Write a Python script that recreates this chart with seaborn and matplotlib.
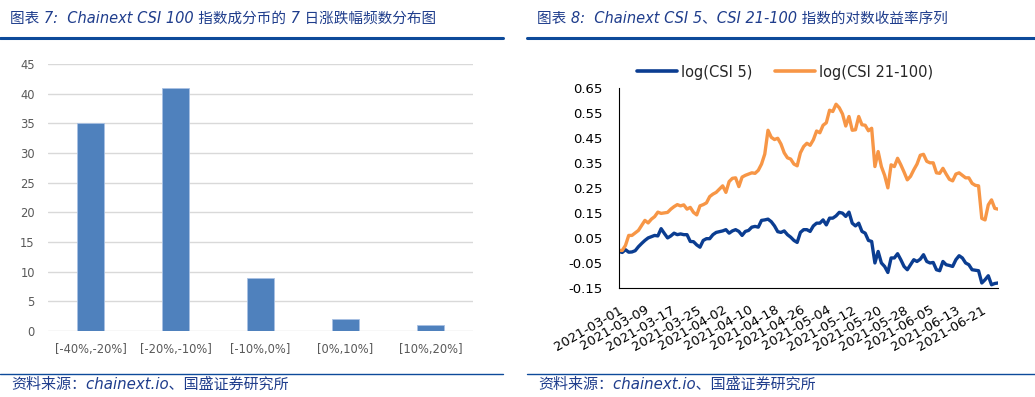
import numpy as np
import pandas as pd
import matplotlib
matplotlib.use('Agg')
import matplotlib.pyplot as plt
import matplotlib.dates as mdates
from matplotlib.lines import Line2D
import seaborn as sns

# Left chart: 7-day return histogram of CSI 100 constituents
bins = ['[-40%,-20%]', '[-20%,-10%]', '[-10%,0%]', '[0%,10%]', '[10%,20%]']
counts = [35, 41, 9, 2, 1]

# Right chart: daily log returns, 2021-03-01 .. 2021-06-26
start_date = '2021-03-01'
csi5 = [-0.004, -0.008, 0.003, -0.007, -0.006, -0.001, 0.015, 0.028, 0.040, 0.050,
        0.055, 0.060, 0.058, 0.087, 0.068, 0.050, 0.058, 0.069, 0.063, 0.066,
        0.063, 0.063, 0.036, 0.035, 0.022, 0.013, 0.040, 0.047, 0.047, 0.063,
        0.072, 0.075, 0.078, 0.083, 0.069, 0.078, 0.083, 0.076, 0.060, 0.076,
        0.080, 0.093, 0.096, 0.093, 0.120, 0.122, 0.125, 0.115, 0.098, 0.075,
        0.072, 0.078, 0.063, 0.053, 0.040, 0.032, 0.072, 0.083, 0.083, 0.076,
        0.098, 0.109, 0.109, 0.122, 0.102, 0.129, 0.129, 0.138, 0.152, 0.149,
        0.136, 0.153, 0.109, 0.098, 0.109, 0.076, 0.069, 0.040, 0.036, -0.050,
        -0.004, -0.050, -0.064, -0.088, -0.030, -0.030, -0.013, -0.037, -0.064, -0.077,
        -0.057, -0.037, -0.044, -0.035, -0.017, -0.044, -0.050, -0.048, -0.077, -0.081,
        -0.044, -0.057, -0.060, -0.064, -0.037, -0.021, -0.030, -0.050, -0.057, -0.077,
        -0.079, -0.081, -0.130, -0.117, -0.101, -0.137, -0.132, -0.130]
csi21_100 = [0.000, 0.000, 0.020, 0.060, 0.060, 0.070, 0.080, 0.100, 0.120, 0.110,
             0.125, 0.135, 0.153, 0.148, 0.150, 0.152, 0.165, 0.175, 0.183, 0.178,
             0.182, 0.165, 0.172, 0.152, 0.142, 0.178, 0.183, 0.190, 0.215, 0.225,
             0.232, 0.245, 0.258, 0.232, 0.275, 0.288, 0.290, 0.255, 0.293, 0.300,
             0.305, 0.310, 0.308, 0.320, 0.345, 0.385, 0.480, 0.452, 0.443, 0.448,
             0.425, 0.390, 0.370, 0.365, 0.345, 0.338, 0.390, 0.415, 0.428, 0.420,
             0.442, 0.477, 0.470, 0.500, 0.510, 0.560, 0.555, 0.584, 0.570, 0.545,
             0.497, 0.535, 0.480, 0.482, 0.535, 0.502, 0.500, 0.478, 0.488, 0.335,
             0.395, 0.335, 0.300, 0.250, 0.342, 0.335, 0.368, 0.342, 0.313, 0.282,
             0.296, 0.322, 0.345, 0.380, 0.384, 0.356, 0.350, 0.350, 0.310, 0.308,
             0.328, 0.305, 0.284, 0.278, 0.305, 0.310, 0.300, 0.290, 0.290, 0.268,
             0.260, 0.258, 0.128, 0.122, 0.182, 0.202, 0.168, 0.165]
series_names = ['log(CSI 5)', 'log(CSI 21-100)']
y_ticks = [-0.15, -0.05, 0.05, 0.15, 0.25, 0.35, 0.45, 0.55, 0.65]

titles = ['图表 7:  Chainext CSI 100 指数成分币的 7 日涨跌幅频数分布图',
          '图表 8:  Chainext CSI 5、CSI 21-100 指数的对数收益率序列']
source = '资料来源：chainext.io、国盛证券研究所'

sns.set_theme(style='white')
plt.rcParams['font.family'] = ['DejaVu Sans', 'Noto Sans CJK SC']

W, H = 1035, 397
fig = plt.figure(figsize=(W / 100, H / 100), dpi=100)


def box(x0, y0, x1, y1):
    # pixel box (top-left origin) -> figure fraction rect
    return [x0 / W, 1 - y1 / H, (x1 - x0) / W, (y1 - y0) / H]


navy = '#1F3D8C'
rule = '#0D4A9A'

# headers and footers
for x0, x1, title in [(0, 503, titles[0]), (527, 1035, titles[1])]:
    fig.add_artist(Line2D([x0 / W, x1 / W], [1 - 37.5 / H] * 2, color=rule, lw=2.2))
    fig.add_artist(Line2D([x0 / W, x1 / W], [1 - 374 / H] * 2, color=rule, lw=1.0))
    fig.text((x0 + 10) / W, 1 - 18 / H, title, color=navy, fontsize=10.5,
             style='italic', va='center', ha='left')
    fig.text((x0 + 11) / W, 1 - 384 / H, source, color=navy, fontsize=10.8,
             style='italic', va='center', ha='left')

# ---- left: bar chart
ax1 = fig.add_axes(box(48, 64, 473, 331))
df_bar = pd.DataFrame({'bin': bins, 'count': counts})
sns.barplot(data=df_bar, x='bin', y='count', color='#4F81BD', saturation=1,
            width=0.31, ax=ax1, zorder=3, edgecolor='#A9C1E3', linewidth=0.6)
ax1.set_ylim(0, 45)
ax1.set_yticks(range(0, 46, 5))
ax1.grid(axis='y', color='#D9D9D9', lw=1.0, zorder=0)
for s in ax1.spines.values():
    s.set_visible(False)
ax1.set_xlabel('')
ax1.set_ylabel('')
ax1.tick_params(axis='both', length=0, labelsize=8.3, labelcolor='#595959')
ax1.tick_params(axis='y', pad=9.5)
ax1.tick_params(axis='x', pad=9)

# ---- right: line chart
ax2 = fig.add_axes(box(619, 87.7, 998, 288))
dates = pd.date_range(start_date, periods=len(csi5), freq='D')
df_line = pd.DataFrame({'date': np.concatenate([dates, dates]),
                        'value': csi5 + csi21_100,
                        'series': [series_names[0]] * len(csi5) + [series_names[1]] * len(csi21_100)})
sns.lineplot(data=df_line, x='date', y='value', hue='series',
             palette=['#0B3D91', '#F79646'], linewidth=2.4, ax=ax2, legend=False)
ax2.set_ylim(-0.15, 0.65)
ax2.set_yticks(y_ticks)
ax2.set_yticklabels([f'{v:.2f}' for v in y_ticks])
ax2.set_xlim(dates[0], dates[-1])
ax2.set_xticks(dates[::8])
ax2.xaxis.set_major_formatter(mdates.DateFormatter('%Y-%m-%d'))
ax2.set_xticks(dates, minor=True)
for lbl in ax2.get_xticklabels():
    lbl.set_rotation(30)
    lbl.set_ha('right')
    lbl.set_rotation_mode('anchor')
for name in ['top', 'right']:
    ax2.spines[name].set_visible(False)
for name in ['left', 'bottom']:
    ax2.spines[name].set_color('black')
    ax2.spines[name].set_linewidth(0.8)
ax2.tick_params(axis='both', which='both', direction='in', color='black',
                width=0.6, labelcolor='black')
ax2.tick_params(axis='y', length=4, labelsize=9.5, pad=12)
ax2.tick_params(axis='x', which='major', length=4, labelsize=9.5, pad=11)
ax2.tick_params(axis='x', which='minor', length=4)
ax2.set_xlabel('')
ax2.set_ylabel('')

handles = [Line2D([], [], color='#0B3D91', lw=2.6), Line2D([], [], color='#F79646', lw=2.6)]
fig.legend(handles, series_names, loc='center', ncol=2, frameon=False,
           bbox_to_anchor=(785 / W, 1 - 72 / H), fontsize=10.5,
           handlelength=2.75, columnspacing=1.6, handletextpad=0.25)

fig.savefig('out.png', dpi=100)
